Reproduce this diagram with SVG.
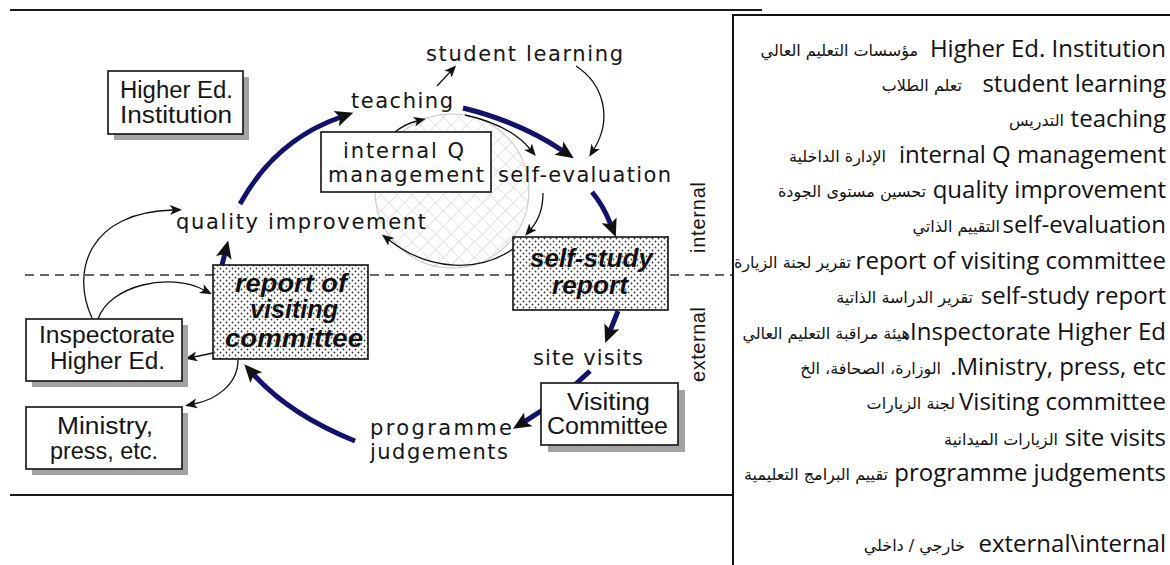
<svg xmlns="http://www.w3.org/2000/svg" width="1170" height="565" viewBox="0 0 1170 565">
  <style>
    .rule{stroke:#1a1a1a;stroke-width:2;fill:none}
    .split{stroke:#333;stroke-width:1.5;stroke-dasharray:9 6;fill:none}
    .box{fill:#fff;stroke:#111;stroke-width:1.6}
    .dots{fill:url(#dots);stroke:#111;stroke-width:1.6}
    .shadow{fill:#a3a3a3}
    .lbl{font-family:"Liberation Sans",Arial,sans-serif;font-size:23px;fill:#151515}
    .flow{font-family:"DejaVu Sans",Verdana,sans-serif;font-size:21px;fill:#151515}
    .rep{font-family:"Liberation Sans",Arial,sans-serif;font-size:25px;font-weight:bold;font-style:italic;fill:#111;stroke:#fff;stroke-width:0.6;paint-order:stroke}
    .side{font-family:"Liberation Sans",Arial,sans-serif;font-size:20px;fill:#151515}
    .thick{fill:none;stroke:#12126c;stroke-width:5;marker-end:url(#headL)}
    .thin{fill:none;stroke:#111;stroke-width:1.3;marker-end:url(#headS)}
    .en{font-family:"Open Sans","DejaVu Sans",sans-serif;font-size:24px;fill:#111;text-anchor:end}
    .ar{font-family:"DejaVu Sans",sans-serif;font-size:16px;fill:#111;text-anchor:end}
  </style>
  <defs>
    <marker id="headL" viewBox="0 -9 20 18" markerWidth="20" markerHeight="18" refX="5" refY="0" markerUnits="userSpaceOnUse" orient="auto">
      <path d="M0,-8 L18,0 L0,8 L4,0 z" fill="#111"/>
    </marker>
    <marker id="headS" viewBox="0 -6 13 12" markerWidth="13" markerHeight="12" refX="3" refY="0" markerUnits="userSpaceOnUse" orient="auto">
      <path d="M0,-5 L12,0 L0,5 L3,0 z" fill="#111"/>
    </marker>
    <pattern id="hatch" patternUnits="userSpaceOnUse" width="11" height="11" patternTransform="rotate(45)">
      <rect width="11" height="11" fill="#fff"/>
      <path d="M0,0 H11 M0,0 V11" stroke="#d0d0d0" stroke-width="1.2"/>
    </pattern>
    <pattern id="dots" patternUnits="userSpaceOnUse" width="6" height="6">
      <rect width="6" height="6" fill="#fff"/>
      <circle cx="1.5" cy="1.5" r="0.9" fill="#333"/>
      <circle cx="4.5" cy="4.5" r="0.9" fill="#333"/>
    </pattern>
  </defs>

  <!-- frame rules and internal/external divider -->
  <g id="frame">
    <line class="rule" x1="10" y1="10" x2="762" y2="10"/>
    <line class="rule" x1="10" y1="495" x2="733" y2="495"/>
    <line class="split" x1="25" y1="275" x2="733" y2="275"/>
    <text class="side" transform="translate(705,217.5) rotate(-90)" text-anchor="middle" textLength="71">internal</text>
    <text class="side" transform="translate(705,344.5) rotate(-90)" text-anchor="middle" textLength="75">external</text>
  </g>

  <!-- quality-management cycle disc -->
  <circle id="cycle" cx="452" cy="191" r="77" fill="url(#hatch)" stroke="#c8c8c8" stroke-width="1.2"/>

  <g id="connectors">
    <!-- main cycle (thick) -->
    <path class="thick" d="M240,204 Q275,140 341,117"/>
    <path class="thick" d="M463,108 Q520,122 563,151"/>
    <path class="thick" d="M592,192 Q603,205 611,225"/>
    <path class="thick" d="M618,311 L610,331"/>
    <path class="thick" d="M590,371 Q560,400 524,422"/>
    <path class="thick" d="M355,441 Q290,415 253,374"/>
    <path class="thick" d="M222,265 L225,253"/>
    <!-- secondary links (thin) -->
    <path class="thin" d="M437,86 L450,72"/>
    <path class="thin" d="M576,66 C605,85 612,120 594,149"/>
    <path class="thin" d="M465,115 Q510,125 530,149"/>
    <path class="thin" d="M395,132 Q405,124 417,121"/>
    <path class="thin" d="M543,193 Q543,215 531,229"/>
    <path class="thin" d="M513,249 C480,272 430,272 389,240"/>
    <path class="thin" d="M92,318 C70,270 90,212 173,210"/>
    <path class="thin" d="M98,319 C110,285 170,272 204,290"/>
    <path class="thin" d="M213,353 L194,357"/>
    <path class="thin" d="M238,360 C238,385 215,400 194,404"/>
  </g>

  <g id="hei">
    <rect class="shadow" x="114" y="77" width="135" height="63"/>
    <rect class="box" x="108" y="71" width="135" height="63"/>
    <text class="lbl" x="120" y="98" textLength="113" lengthAdjust="spacingAndGlyphs">Higher Ed.</text>
    <text class="lbl" x="120" y="123" textLength="112" lengthAdjust="spacingAndGlyphs">Institution</text>
  </g>

  <g id="student-learning">
    <text class="flow" x="426" y="61" textLength="197">student learning</text>
  </g>

  <g id="teaching">
    <text class="flow" x="351" y="108" textLength="102">teaching</text>
  </g>

  <g id="internal-q">
    <rect class="box" x="321" y="132" width="170" height="60"/>
    <text class="flow" x="343" y="158" textLength="121">internal Q</text>
    <text class="flow" x="328" y="182" textLength="156">management</text>
  </g>

  <g id="self-evaluation">
    <text class="flow" x="498" y="182" textLength="173">self-evaluation</text>
  </g>

  <g id="quality-improvement">
    <text class="flow" x="176" y="229" textLength="250">quality improvement</text>
  </g>

  <g id="self-study">
    <rect class="dots" x="513" y="237" width="155" height="73"/>
    <text class="rep" x="530" y="267" textLength="123" lengthAdjust="spacingAndGlyphs">self-study</text>
    <text class="rep" x="552" y="294" textLength="76" lengthAdjust="spacingAndGlyphs">report</text>
  </g>

  <g id="vc-report">
    <rect class="dots" x="213" y="265" width="155" height="94"/>
    <text class="rep" x="235" y="292" textLength="112" lengthAdjust="spacingAndGlyphs">report of</text>
    <text class="rep" x="250" y="318" textLength="88" lengthAdjust="spacingAndGlyphs">visiting</text>
    <text class="rep" x="225" y="347" textLength="138" lengthAdjust="spacingAndGlyphs">committee</text>
  </g>

  <g id="inspectorate">
    <rect class="shadow" x="32" y="325" width="156" height="62"/>
    <rect class="box" x="26" y="319" width="156" height="62"/>
    <text class="lbl" x="39" y="343" textLength="136" lengthAdjust="spacingAndGlyphs">Inspectorate</text>
    <text class="lbl" x="50" y="369" textLength="115" lengthAdjust="spacingAndGlyphs">Higher Ed.</text>
  </g>

  <g id="ministry">
    <rect class="shadow" x="32" y="413" width="156" height="62"/>
    <rect class="box" x="26" y="407" width="156" height="62"/>
    <text class="lbl" x="57" y="434" textLength="96" lengthAdjust="spacingAndGlyphs">Ministry,</text>
    <text class="lbl" x="50" y="459" textLength="108" lengthAdjust="spacingAndGlyphs">press, etc.</text>
  </g>

  <g id="site-visits">
    <text class="flow" x="533" y="365" textLength="110">site visits</text>
  </g>

  <g id="visiting-committee">
    <rect class="shadow" x="548" y="390" width="137" height="62"/>
    <rect class="box" x="541" y="383" width="137" height="62"/>
    <text class="lbl" x="567" y="410" textLength="83" lengthAdjust="spacingAndGlyphs">Visiting</text>
    <text class="lbl" x="547" y="434" textLength="121" lengthAdjust="spacingAndGlyphs">Committee</text>
  </g>

  <g id="programme-judgements">
    <text class="flow" x="370" y="435" textLength="142">programme</text>
    <text class="flow" x="370" y="459" textLength="138">judgements</text>
  </g>

  <!-- bilingual glossary: Arabic term on the left, English term on the right -->
  <g id="glossary">
    <rect x="733" y="15" width="460" height="570" fill="#fff" stroke="#111" stroke-width="2"/>
    <text class="ar" x="918" y="56">مؤسسات التعليم العالي</text>
    <text class="en" x="1166" y="57">Higher Ed. Institution</text>
    <text class="ar" x="962" y="91">تعلم الطلاب</text>
    <text class="en" x="1166" y="92">student learning</text>
    <text class="ar" x="1064" y="126">التدريس</text>
    <text class="en" x="1166" y="127">teaching</text>
    <text class="ar" x="886" y="162">الإدارة الداخلية</text>
    <text class="en" x="1166" y="163">internal Q management</text>
    <text class="ar" x="926" y="197">تحسين مستوى الجودة</text>
    <text class="en" x="1166" y="198">quality improvement</text>
    <text class="ar" x="1000" y="232">التقييم الذاتي</text>
    <text class="en" x="1166" y="233">self-evaluation</text>
    <text class="ar" x="851" y="268">تقرير لجنة الزيارة</text>
    <text class="en" x="1166" y="269">report of visiting committee</text>
    <text class="ar" x="973" y="303">تقرير الدراسة الذاتية</text>
    <text class="en" x="1166" y="304">self-study report</text>
    <text class="ar" x="910" y="339">هيئة مراقبة التعليم العالي</text>
    <text class="en" x="1166" y="340">.Inspectorate Higher Ed</text>
    <text class="ar" x="941" y="374">الوزارة، الصحافة، الخ</text>
    <text class="en" x="1166" y="375">.Ministry, press, etc</text>
    <text class="ar" x="955" y="409">لجنة الزيارات</text>
    <text class="en" x="1166" y="410">Visiting committee</text>
    <text class="ar" x="1058" y="445">الزيارات الميدانية</text>
    <text class="en" x="1166" y="446">site visits</text>
    <text class="ar" x="888" y="480">تقييم البرامج التعليمية</text>
    <text class="en" x="1166" y="481">programme judgements</text>
    <text class="ar" x="965" y="551">خارجي / داخلي</text>
    <text class="en" x="1166" y="552">external\internal</text>
  </g>
</svg>
